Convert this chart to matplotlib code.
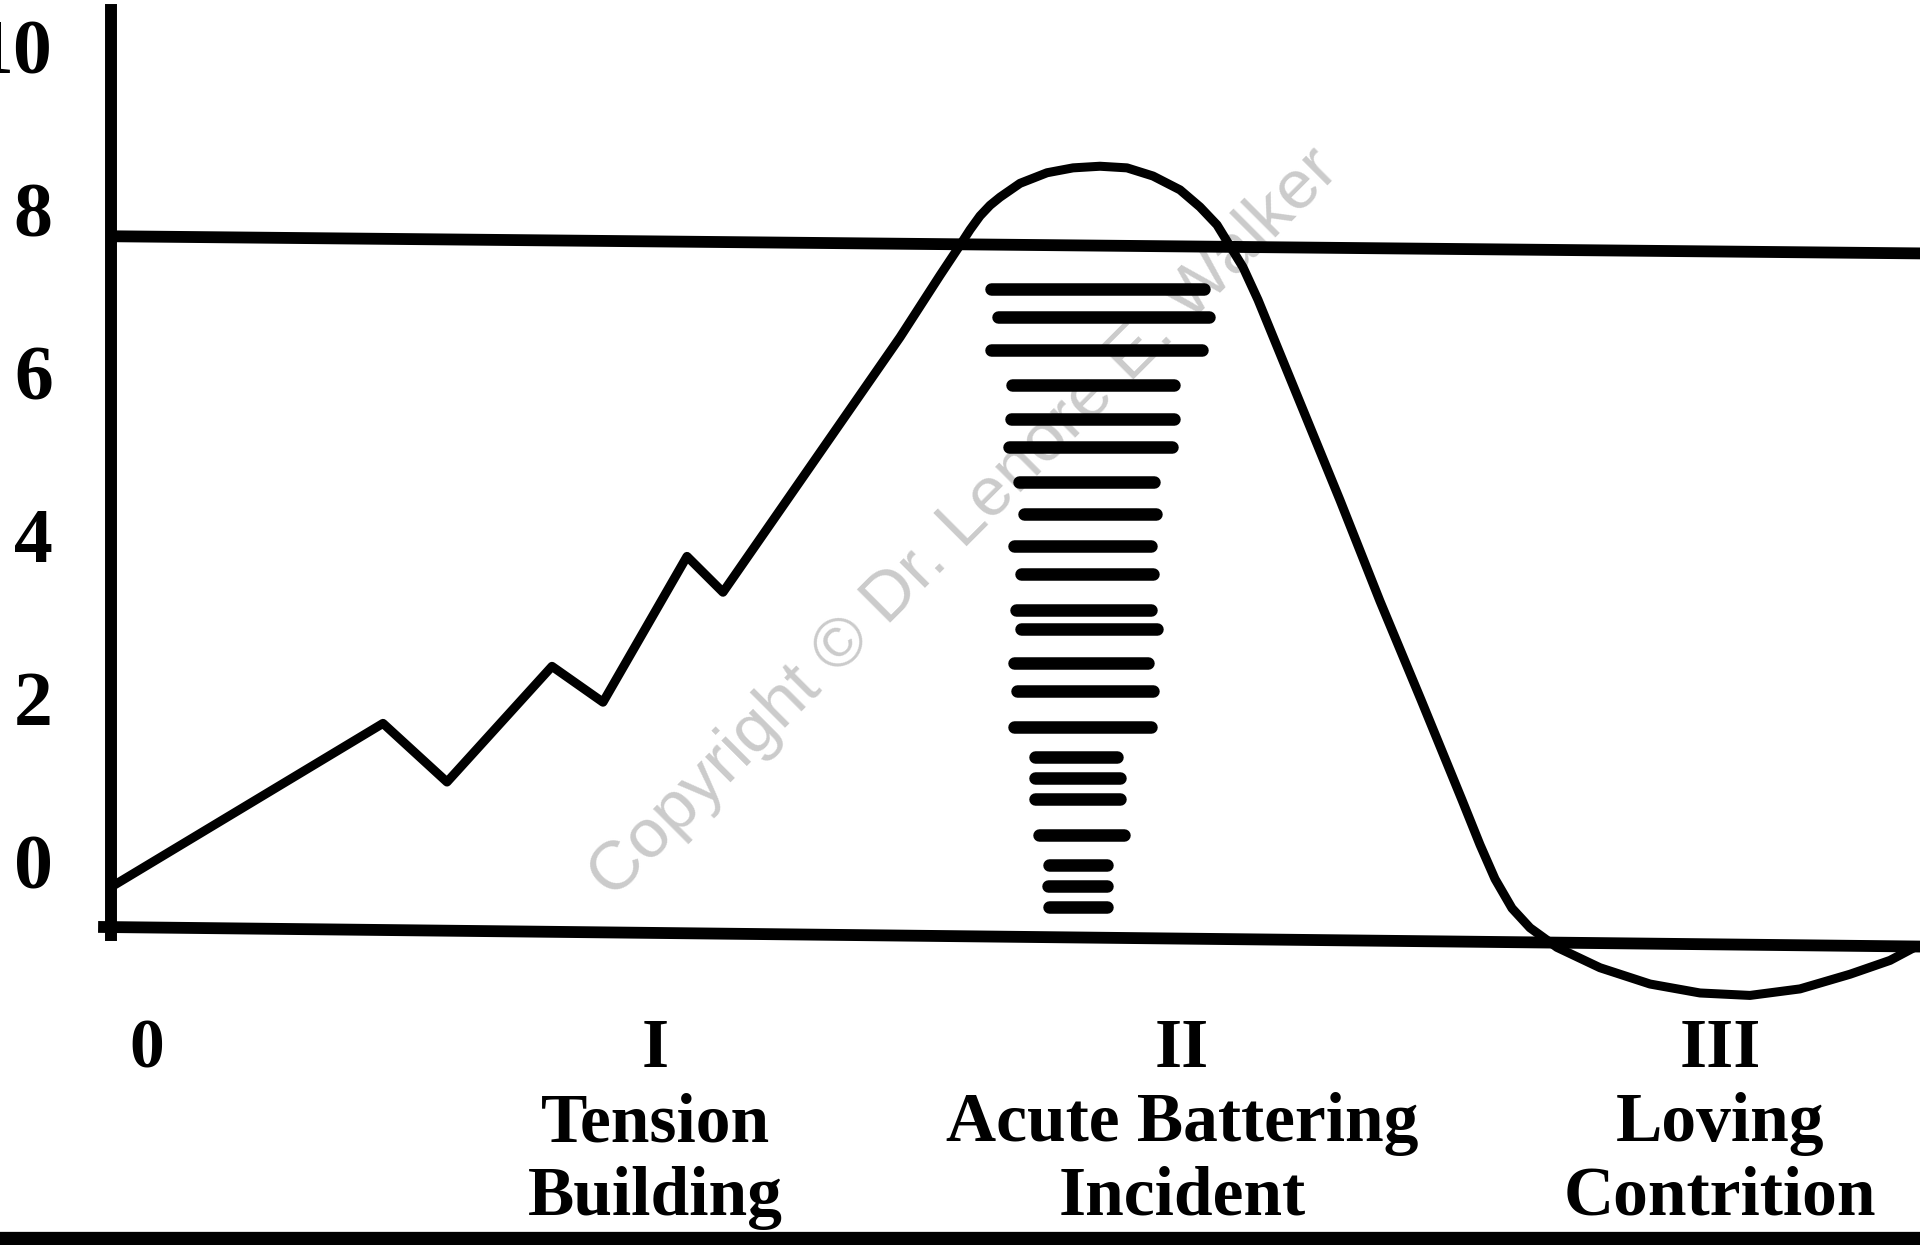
import numpy as np
import matplotlib.pyplot as plt

# curve of the cycle (x: time units, y: tension level)
curve_x = [0.00, 2.68, 3.32, 4.37, 4.88, 5.72, 6.08, 7.85, 8.05, 8.25,
           8.45, 8.55, 8.65, 8.75, 8.85, 9.05, 9.32, 9.58, 9.85, 10.12,
           10.38, 10.65, 10.85, 11.02, 11.13, 11.28, 11.43, 11.84, 12.25,
           12.65, 13.06, 13.47, 13.65, 13.80, 13.97, 14.15, 14.42, 14.85,
           15.35, 15.85, 16.35, 16.85, 17.35, 17.75, 17.98]
curve_y = [-0.29, 1.69, 0.97, 2.39, 1.95, 3.74, 3.30, 6.43, 6.81, 7.19,
           7.56, 7.75, 7.92, 8.05, 8.15, 8.32, 8.45, 8.51, 8.53, 8.51,
           8.41, 8.24, 8.03, 7.81, 7.59, 7.29, 6.89, 5.66, 4.43,
           3.19, 1.98, 0.75, 0.20, -0.22, -0.58, -0.82, -1.06, -1.31,
           -1.51, -1.62, -1.65, -1.57, -1.39, -1.22, -1.07]

# threshold line and base line (slightly skewed in the scan)
thresh_x = [0.00, 18.05]
thresh_y = [7.67, 7.46]
base_x = [-0.11, 18.05]
base_y = [-0.81, -1.05]

# hatching under the peak (acute battering incident)
hatch_y = [7.02, 6.68, 6.27, 5.84, 5.43, 5.08, 4.65, 4.26, 3.87, 3.52, 3.08,
           2.85, 2.43, 2.09, 1.65, 1.28, 1.02, 0.76, 0.32, -0.05, -0.31, -0.56]
hatch_x0 = [8.76, 8.83, 8.76, 8.97, 8.96, 8.94, 9.04, 9.09, 8.99, 9.06, 9.01,
            9.06, 8.99, 9.02, 8.99, 9.20, 9.20, 9.20, 9.24, 9.34, 9.33, 9.34]
hatch_x1 = [10.89, 10.94, 10.87, 10.59, 10.59, 10.57, 10.39, 10.41, 10.36,
            10.38, 10.36, 10.42, 10.33, 10.38, 10.36, 10.02, 10.05, 10.05,
            10.09, 9.92, 9.92, 9.92]

y_ticks = [0, 2, 4, 6, 8, 10]
phase_x = [0.32, 5.40, 10.67, 16.05]
phase_labels = ["0", "I\nTension\nBuilding", "II\nAcute Battering\nIncident",
                "III\nLoving\nContrition"]
watermark = "Copyright \u00a9 Dr. Lenore E. Walker"

serif = ["Liberation Serif", "DejaVu Serif"]

fig = plt.figure(figsize=(19.2, 12.45), dpi=100)
ax = fig.add_axes([111 / 1920, 235 / 1245, 1809 / 1920, 1010 / 1245])
ax.set_xlim(-0.04, 18.05)
ax.set_ylim(-1.829, 10.571)

ax.plot(curve_x, curve_y, color="black", lw=6.5, solid_joinstyle="round",
        zorder=3)
ax.plot(thresh_x, thresh_y, color="black", lw=8.5, zorder=3)
ax.plot(base_x, base_y, color="black", lw=8.5, clip_on=False, zorder=3)
for y, x0, x1 in zip(hatch_y, hatch_x0, hatch_x1):
    ax.plot([x0, x1], [y, y], color="black", lw=9, solid_capstyle="round",
            zorder=3)

ax.text(8.49, 4.14, watermark, rotation=45, rotation_mode="anchor",
        ha="center", va="center", fontsize=50, color="#cbcbcb",
        family=["Liberation Sans", "DejaVu Sans"], zorder=2)

for s in ["top", "right", "bottom"]:
    ax.spines[s].set_visible(False)
ax.spines["left"].set_linewidth(8.6)
ax.spines["left"].set_bounds(-0.91, 10.45)

ax.set_yticks(y_ticks)
ax.set_yticklabels([str(t) for t in y_ticks], fontsize=56, fontweight="bold",
                   family=serif)
ax.tick_params(axis="y", length=0, pad=42)

ax.set_xticks(phase_x)
ax.set_xticklabels(phase_labels, fontsize=50, fontweight="bold",
                   family=serif, linespacing=1.2)
ax.tick_params(axis="x", length=0, pad=6)

# page border at the bottom of the scan
fig.add_artist(plt.Line2D([0, 1], [0.0045, 0.0045], color="black", lw=11,
                          transform=fig.transFigure))

fig.savefig("out.png", dpi=100, facecolor="white")
